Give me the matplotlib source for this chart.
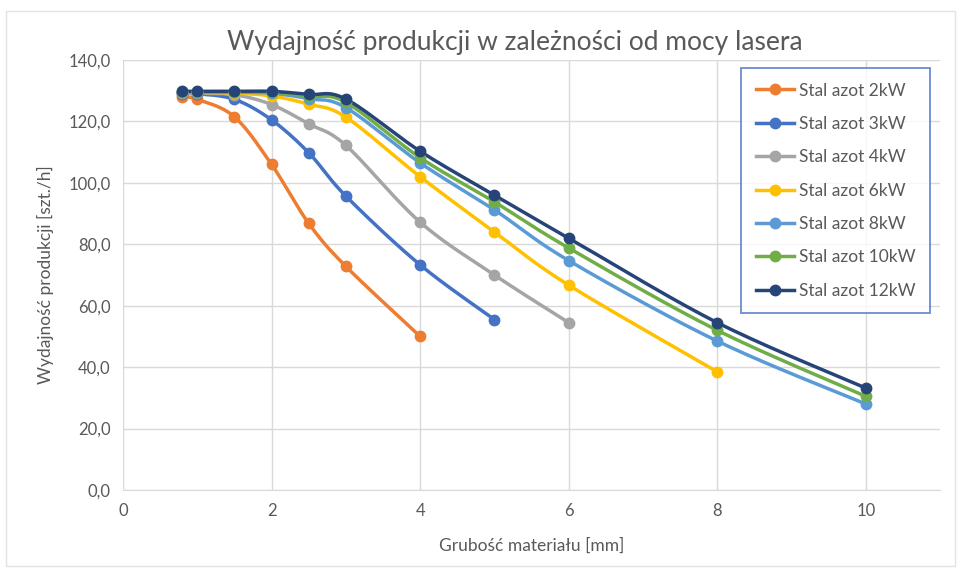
import matplotlib
matplotlib.use("Agg")
import matplotlib.pyplot as plt
import numpy as np
from matplotlib.ticker import FuncFormatter
from matplotlib.patches import Rectangle

plt.rcParams['font.family'] = ['Lato', 'DejaVu Sans']

thickness = [0.8, 1, 1.5, 2, 2.5, 3, 4, 5, 6, 8, 10]

stal_2kw = [128.0, 127.2, 121.5, 106.0, 86.8, 72.8, 50.0]
stal_3kw = [129.0, 129.0, 127.2, 120.5, 109.8, 95.7, 73.3, 55.5]
stal_4kw = [129.2, 129.2, 128.7, 125.5, 119.2, 112.2, 87.2, 70.0, 54.5]
stal_6kw = [129.5, 129.5, 129.2, 128.3, 125.6, 121.4, 102.0, 84.0, 66.7, 38.5]
stal_8kw = [129.6, 129.6, 129.5, 129.2, 127.4, 124.5, 106.5, 91.2, 74.7, 48.5, 28.0]
stal_10kw = [129.7, 129.7, 129.6, 129.5, 128.2, 126.2, 108.2, 93.8, 78.8, 52.0, 30.5]
stal_12kw = [129.8, 129.8, 129.8, 129.8, 128.8, 127.3, 110.3, 96.0, 82.0, 54.5, 33.2]

series = [
    ("Stal azot 2kW", stal_2kw, "#ED7D31"),
    ("Stal azot 3kW", stal_3kw, "#4472C4"),
    ("Stal azot 4kW", stal_4kw, "#A5A5A5"),
    ("Stal azot 6kW", stal_6kw, "#FFC000"),
    ("Stal azot 8kW", stal_8kw, "#5B9BD5"),
    ("Stal azot 10kW", stal_10kw, "#70AD47"),
    ("Stal azot 12kW", stal_12kw, "#264478"),
]


def smooth(xs, ys, n=30):
    # bezier smoothing similar to excel "smoothed line"
    p = np.column_stack([xs, ys]).astype(float)
    out = [p[0]]
    for i in range(len(p) - 1):
        p0 = p[i - 1] if i > 0 else p[i]
        p1 = p[i]
        p2 = p[i + 1]
        p3 = p[i + 2] if i + 2 < len(p) else p[i + 1]
        c1 = p1 + (p2 - p0) / 6
        c2 = p2 - (p3 - p1) / 6
        t = np.linspace(0, 1, n)[1:, None]
        seg = ((1 - t) ** 3) * p1 + 3 * ((1 - t) ** 2) * t * c1 + 3 * (1 - t) * t ** 2 * c2 + t ** 3 * p2
        out.extend(seg)
    out = np.array(out)
    return out[:, 0], out[:, 1]


fig = plt.figure(figsize=(9.59, 5.69), dpi=100)
fig.patch.set_facecolor("white")
# chart area frame
fig.patches.append(Rectangle((0.006, 0.006), 0.99, 0.975, transform=fig.transFigure,
                             fill=False, edgecolor="#E3E3E3", lw=1))
ax = fig.add_axes([0.1283, 0.1388, 0.852, 0.7557])

for label, vals, col in series:
    xs = thickness[:len(vals)]
    sx, sy = smooth(xs, vals)
    ax.plot(sx, sy, color=col, lw=2.5, solid_capstyle='round', zorder=3)
    ax.plot(xs, vals, 'o', color=col, ms=7.5, zorder=4)
    ax.plot([], [], '-o', color=col, lw=2.5, ms=7.5, label=label)

ax.set_xlim(0, 11)
ax.set_ylim(0, 140)
ax.set_xticks([0, 2, 4, 6, 8, 10])
ax.set_yticks(np.arange(0, 141, 20))
ax.yaxis.set_major_formatter(FuncFormatter(lambda v, p: f"{v:.1f}".replace(".", ",")))
ax.grid(True, color="#D9D9D9", lw=1)
ax.set_axisbelow(True)
for s in ["top", "right", "left"]:
    ax.spines[s].set_visible(False)
ax.spines["bottom"].set_color("#D9D9D9")
ax.tick_params(length=0, colors="#595959", labelsize=12, pad=9)

ax.set_xlabel("Grubość materiału [mm]", fontsize=12.5, color="#595959", labelpad=14)
ax.set_ylabel("Wydajność produkcji [szt./h]", fontsize=12.5, color="#595959", labelpad=10)
fig.text(0.537, 0.926, "Wydajność produkcji w zależności od mocy lasera", fontsize=19,
         color="#595959", ha="center", va="center")

leg = ax.legend(loc="upper right", bbox_to_anchor=(0.988, 0.982), borderaxespad=0, fontsize=12.5,
                frameon=True, fancybox=False, labelspacing=1.0, handlelength=2.2, handletextpad=0.3,
                borderpad=0.85, labelcolor="#595959")
leg.get_frame().set_edgecolor("#4472C4")
leg.get_frame().set_linewidth(1.3)

fig.savefig("out.png", dpi=100)
